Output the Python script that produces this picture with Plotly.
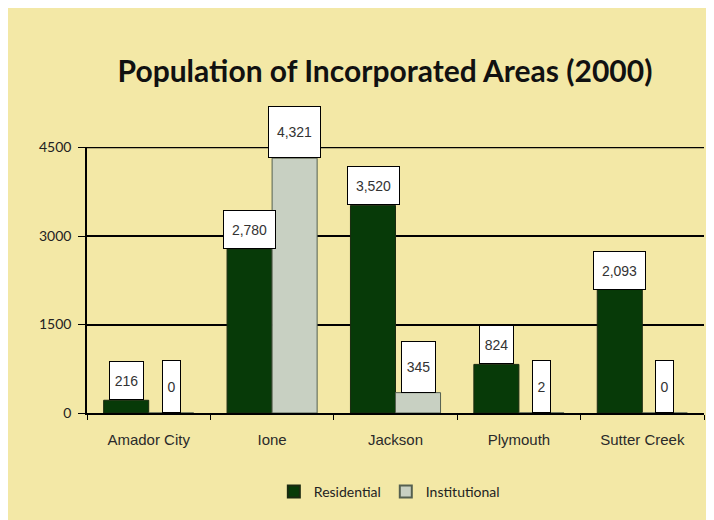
import plotly.graph_objects as go

categories = ["Amador City", "Ione", "Jackson", "Plymouth", "Sutter Creek"]
residential = [216, 2780, 3520, 824, 2093]
institutional = [0, 4321, 345, 2, 0]
y_ticks = [0, 1500, 3000, 4500]

BG = "#F3E8A6"
GREEN = "#073A08"
LIGHT = "#C8D0C2"

fig = go.Figure()
fig.add_trace(go.Bar(name="Residential", x=categories, y=residential,
                     marker=dict(color=GREEN, line=dict(color="#1a2a10", width=1))))
fig.add_trace(go.Bar(name="Institutional", x=categories, y=institutional,
                     marker=dict(color=LIGHT, line=dict(color="#556050", width=1))))


def box_size(v, small_w=17):
    s = f"{v:,}"
    if v < 10:
        return small_w, 51
    w = 9 * len(s) + 6
    return w, 37


def add_label(cat, v, shift, tall=False):
    w, h = box_size(v)
    if tall and v >= 10:
        h = 50
    fig.add_annotation(x=cat, y=v, xref="x", yref="y", xshift=shift,
                       yanchor="bottom", xanchor="center", yshift=0,
                       text=f"{v:,}", showarrow=False,
                       bgcolor="white", bordercolor="black", borderwidth=1,
                       borderpad=0, width=w, height=h, valign="middle",
                       font=dict(family="Liberation Sans, Arial", size=14, color="#333"))


for c, r, i in zip(categories, residential, institutional):
    add_label(c, r, -22.5)
    add_label(c, i, 22.5, tall=True)

# top gridline (plotly omits grid at the range edge)
fig.add_shape(type="line", xref="paper", yref="y", x0=0, x1=1,
              y0=max(y_ticks), y1=max(y_ticks),
              line=dict(color="black", width=1.5), layer="below")

fig.update_layout(
    width=714, height=520,
    paper_bgcolor=BG, plot_bgcolor=BG,
    margin=dict(l=79, r=18, t=139, b=115),
    barmode="group", bargap=0.27, bargroupgap=0,
    title=dict(text="<b>Population of Incorporated Areas (2000)</b>",
               x=0.528, xanchor="center", y=0.877, yanchor="middle",
               font=dict(family="Lato", size=30, color="#111")),
    showlegend=True,
    legend=dict(orientation="h", x=0.49, xref="paper", xanchor="center",
                y=-0.297, yanchor="middle", bgcolor="rgba(0,0,0,0)",
                font=dict(family="Lato", size=14, color="#222"),
                itemsizing="constant", traceorder="normal", tracegroupgap=0),
    font=dict(family="Liberation Sans, Arial", size=14, color="#222"),
)
fig.update_xaxes(showline=True, linecolor="black", linewidth=1.5,
                 ticks="outside", tickson="boundaries", ticklen=5,
                 tickcolor="black", showgrid=False, ticklabelstandoff=12,
                 tickfont=dict(size=15, color="#2a2a2a"))
fig.update_yaxes(range=[0, 4510], tickvals=y_ticks, ticktext=[str(v) for v in y_ticks],
                 showline=True, linecolor="black", linewidth=1.5,
                 ticks="outside", ticklen=7, tickcolor="black",
                 showgrid=True, gridcolor="black", gridwidth=1.5,
                 zeroline=False, tickfont=dict(family="Lato", size=14, color="#222"),
                 ticklabelstandoff=4)

fig.write_html("out.html")
